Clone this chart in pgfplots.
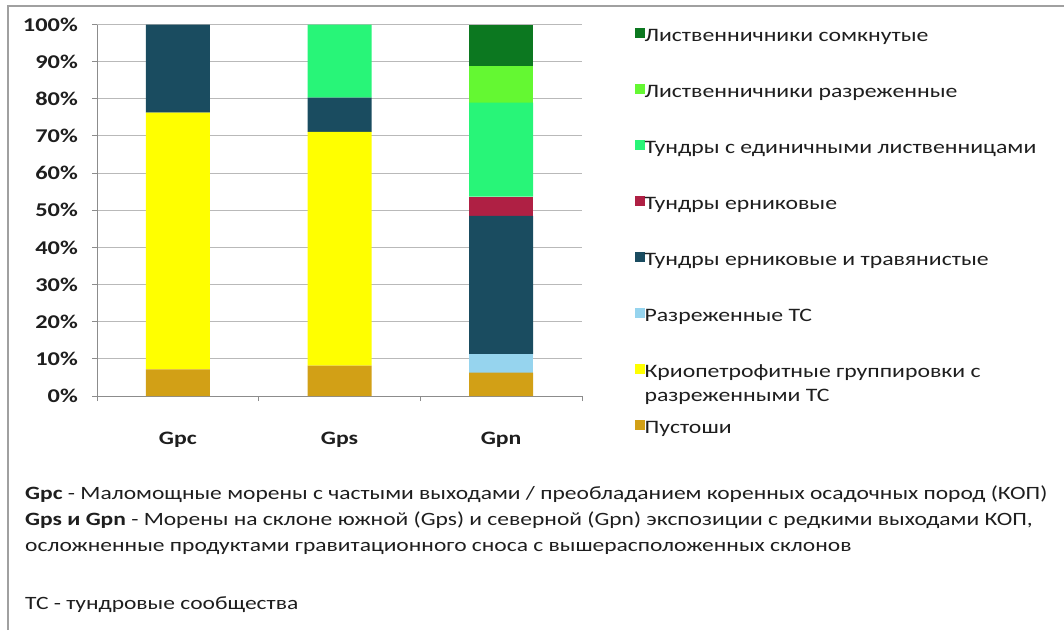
\documentclass[border=0pt]{standalone}
\usepackage{pgfplots}
\pgfplotsset{compat=1.18}
\usepackage{fontspec}
\setmainfont{Carlito}[FakeStretch=1.25]
\definecolor{cDG}{RGB}{12,120,32}
\definecolor{cLime}{RGB}{100,248,50}
\definecolor{cSpring}{RGB}{40,245,120}
\definecolor{cRed}{RGB}{175,32,68}
\definecolor{cTeal}{RGB}{26,76,96}
\definecolor{cLBlue}{RGB}{150,212,238}
\definecolor{cYel}{RGB}{255,255,0}
\definecolor{cOchre}{RGB}{210,160,22}
\definecolor{cGrid}{RGB}{185,185,185}
\definecolor{cAxis}{RGB}{140,140,140}
\definecolor{cFrame}{RGB}{160,160,160}
\definecolor{cText}{RGB}{30,30,30}
\begin{document}
\begin{tikzpicture}
\useasboundingbox (0pt,0pt) rectangle (1064pt,-630pt);
\draw[cFrame, line width=2pt] (8pt,-630pt) -- (8pt,-6pt) -- (1064pt,-6pt);
\begin{axis}[
  at={(97pt,-396pt)}, anchor=south west,
  scale only axis, width=485pt, height=371.5pt,
  xmin=-0.5, xmax=2.5, ymin=0, ymax=100,
  ybar stacked, bar width=64pt,
  axis x line*=bottom, axis y line*=left,
  axis line style={cAxis, line width=1pt},
  ymajorgrids, grid style={cGrid, line width=1pt},
  ytick={0,10,...,100},
  yticklabels={0\%,10\%,20\%,30\%,40\%,50\%,60\%,70\%,80\%,90\%,100\%},
  xtick={0,1,2}, xticklabels={Gpc,Gps,Gpn},
  minor xtick={-0.5,0.5,1.5,2.5},
  major x tick style={draw=none},
  minor x tick style={cAxis, line width=1pt},
  y tick style={cAxis, line width=1pt},
  tick align=outside, major tick length=5pt, minor tick length=5pt,
  yticklabel style={font=\bfseries\fontsize{19.5}{22}\selectfont, text=cText, anchor=east, inner sep=0pt, xshift=-14pt},
  xticklabel style={font=\bfseries\fontsize{19}{22}\selectfont, text=cText, anchor=center, inner sep=0pt, yshift=-39pt},
  legend image code/.code={\fill[#1] (0pt,-1pt) rectangle (10pt,9pt);},
  reverse legend,
  legend cell align=left,
  legend style={at={(rel axis cs:1.108,0.993)}, anchor=north west, draw=none, fill=none,
    font=\fontsize{19}{24}\selectfont, text=cText, row sep=37pt, inner sep=0pt,
    nodes={inner sep=0pt, text height=14pt, text depth=5pt},
    /tikz/every even column/.append style={column sep=9pt}},
]
\addplot[fill=cOchre, draw=none] coordinates {(0,7.2) (1,8.2) (2,6.3)};
\addlegendentry{Пустоши}
\addplot[fill=cYel, draw=none] coordinates {(0,69.1) (1,62.9) (2,0)};
\addlegendentry{\raisebox{0pt}[\height][0pt]{\vtop{\hbox{Криопетрофитные группировки с}\hbox{разреженными ТС}}}}
\addplot[fill=cLBlue, draw=none] coordinates {(0,0) (1,0) (2,5.0)};
\addlegendentry{Разреженные ТС}
\addplot[fill=cTeal, draw=none] coordinates {(0,23.7) (1,9.2) (2,37.2)};
\addlegendentry{Тундры ерниковые и травянистые}
\addplot[fill=cRed, draw=none] coordinates {(0,0) (1,0) (2,5.2)};
\addlegendentry{Тундры ерниковые}
\addplot[fill=cSpring, draw=none] coordinates {(0,0) (1,19.7) (2,25.3)};
\addlegendentry{Тундры с единичными лиственницами}
\addplot[fill=cLime, draw=none] coordinates {(0,0) (1,0) (2,9.8)};
\addlegendentry{Лиственничники разреженные}
\addplot[fill=cDG, draw=none] coordinates {(0,0) (1,0) (2,11.2)};
\addlegendentry{Лиственничники сомкнутые}
\end{axis}
\begin{scope}[every node/.style={anchor=base west, inner sep=0pt, text=cText, font=\fontsize{18.8}{22}\selectfont}]
\node at (25pt,-499pt) {\textbf{Gpc} - Маломощные морены с частыми выходами / преобладанием коренных осадочных пород (КОП)};
\node at (25pt,-525pt) {\textbf{Gps и Gpn} - Морены на склоне южной (Gps) и северной (Gpn) экспозиции с редкими выходами КОП,};
\node at (25pt,-551pt) {осложненные продуктами гравитационного сноса с вышерасположенных склонов};
\node at (25pt,-609pt) {ТС - тундровые сообщества};
\end{scope}
\end{tikzpicture}
\end{document}
